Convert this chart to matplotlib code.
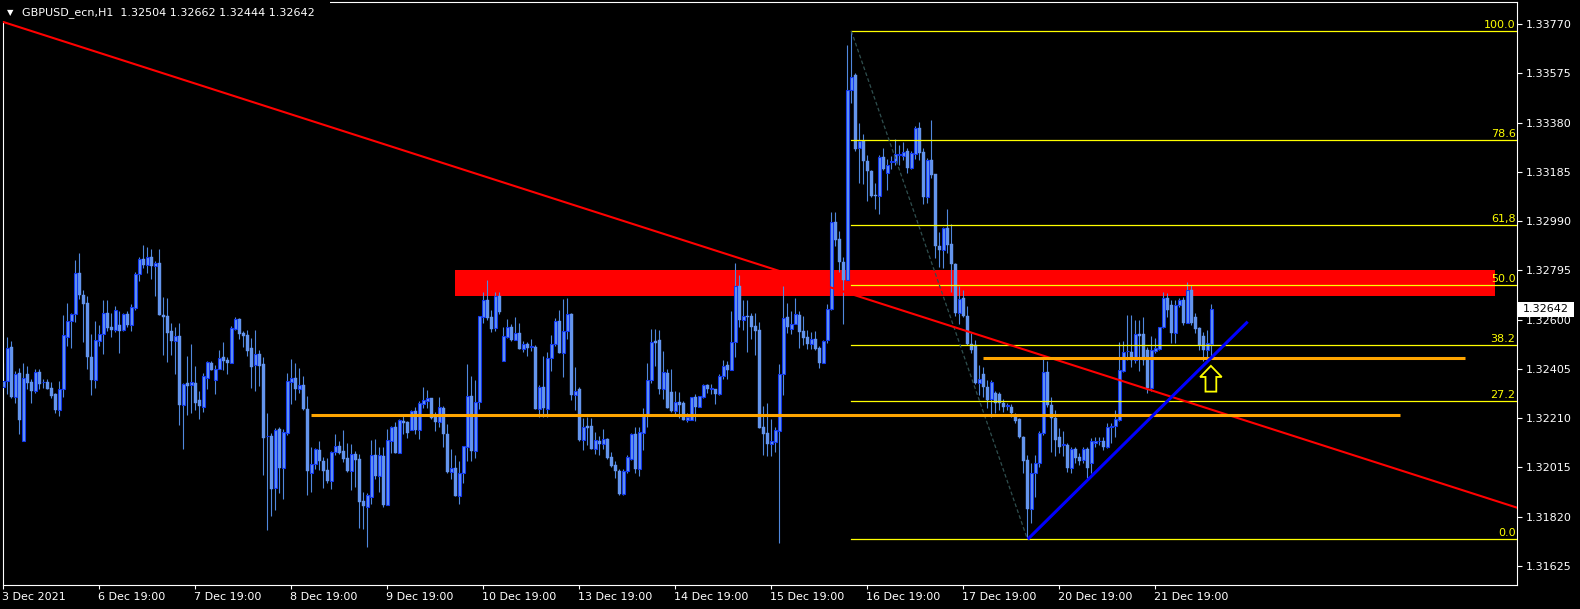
import matplotlib
matplotlib.use("Agg")
import matplotlib.pyplot as plt
import numpy as np
from matplotlib.patches import Rectangle, Polygon
from matplotlib.transforms import ScaledTranslation

title = "GBPUSD_ecn,H1  1.32504 1.32662 1.32444 1.32642"

# H1 candles
opens = [
    1.32332, 1.32358, 1.32490, 1.32295, 1.32387, 1.32121, 1.32385, 1.32353, 1.32319, 1.32392,
    1.32352, 1.32353, 1.32329, 1.32306, 1.32242, 1.32324, 1.32533, 1.32596, 1.32621, 1.32783,
    1.32698, 1.32666, 1.32453, 1.32361, 1.32517, 1.32542, 1.32625, 1.32571, 1.32559, 1.32579,
    1.32560, 1.32622, 1.32580, 1.32648, 1.32779, 1.32840, 1.32818, 1.32848, 1.32811, 1.32824,
    1.32618, 1.32614, 1.32555, 1.32517, 1.32535, 1.32262, 1.32348, 1.32341, 1.32348, 1.32282,
    1.32255, 1.32370, 1.32428, 1.32362, 1.32406, 1.32452, 1.32440, 1.32430, 1.32563, 1.32603,
    1.32547, 1.32539, 1.32488, 1.32419, 1.32464, 1.32424, 1.32139, 1.32141, 1.31935, 1.32166,
    1.32014, 1.32152, 1.32354, 1.32369, 1.32327, 1.32341, 1.32246, 1.31994, 1.32027, 1.32084,
    1.32040, 1.32005, 1.31959, 1.32075, 1.32099, 1.32080, 1.32051, 1.32002, 1.32068, 1.32048,
    1.31883, 1.31857, 1.31899, 1.32064, 1.31982, 1.32060, 1.31864, 1.32121, 1.32175, 1.32073,
    1.32199, 1.32196, 1.32163, 1.32238, 1.32162, 1.32267, 1.32279, 1.32290, 1.32216, 1.32195,
    1.32250, 1.32149, 1.31998, 1.32013, 1.31903, 1.31992, 1.32097, 1.32298, 1.32080, 1.32272,
    1.32612, 1.32678, 1.32611, 1.32568, 1.32694, 1.32438, 1.32533, 1.32570, 1.32520, 1.32547,
    1.32485, 1.32504, 1.32492, 1.32492, 1.32248, 1.32335, 1.32245, 1.32447, 1.32502, 1.32595,
    1.32469, 1.32555, 1.32621, 1.32303, 1.32326, 1.32124, 1.32179, 1.32179, 1.32088, 1.32120,
    1.32109, 1.32128, 1.32057, 1.32025, 1.32001, 1.31910, 1.31999, 1.32049, 1.32148, 1.32010,
    1.32153, 1.32223, 1.32359, 1.32516, 1.32520, 1.32326, 1.32389, 1.32314, 1.32239, 1.32273,
    1.32270, 1.32201, 1.32203, 1.32293, 1.32256, 1.32293, 1.32342, 1.32326, 1.32326, 1.32304,
    1.32375, 1.32421, 1.32402, 1.32511, 1.32733, 1.32597, 1.32614, 1.32615, 1.32575, 1.32560,
    1.32173, 1.32152, 1.32108, 1.32116, 1.32157, 1.32383, 1.32611, 1.32562, 1.32583, 1.32619,
    1.32556, 1.32533, 1.32505, 1.32524, 1.32488, 1.32430, 1.32518, 1.32642, 1.32986, 1.32919,
    1.32830, 1.32759, 1.33509, 1.33569, 1.33278, 1.33309, 1.33227, 1.33189, 1.33094, 1.33091,
    1.33245, 1.33182, 1.33225, 1.33225, 1.33254, 1.33247, 1.33268, 1.33202, 1.33258, 1.33359,
    1.33265, 1.33084, 1.33231, 1.33175, 1.32893, 1.32874, 1.32964, 1.32901, 1.32820, 1.32628,
    1.32685, 1.32616, 1.32502, 1.32500, 1.32348, 1.32385, 1.32335, 1.32286, 1.32308, 1.32306,
    1.32269, 1.32258, 1.32256, 1.32216, 1.32207, 1.32137, 1.32044, 1.31849, 1.31992, 1.32031,
    1.32150, 1.32392, 1.32262, 1.32209, 1.32137, 1.32104, 1.32104, 1.32014, 1.32088, 1.32055,
    1.32044, 1.32088, 1.32031, 1.32113, 1.32118, 1.32121, 1.32095, 1.32174, 1.32180, 1.32203,
    1.32398, 1.32475, 1.32473, 1.32440, 1.32543, 1.32543, 1.32480, 1.32328, 1.32476, 1.32484,
    1.32570, 1.32685, 1.32658, 1.32549, 1.32658, 1.32678, 1.32588, 1.32718, 1.32612, 1.32566,
    1.32535, 1.32480, 1.32504,
]
highs = [
    1.32430, 1.32530, 1.32515, 1.32398, 1.32410, 1.32430, 1.32416, 1.32364, 1.32403, 1.32403,
    1.32366, 1.32365, 1.32352, 1.32308, 1.32357, 1.32618, 1.32666, 1.32628, 1.32836, 1.32864,
    1.32717, 1.32695, 1.32543, 1.32595, 1.32579, 1.32676, 1.32676, 1.32625, 1.32654, 1.32633,
    1.32626, 1.32634, 1.32662, 1.32787, 1.32847, 1.32896, 1.32889, 1.32880, 1.32832, 1.32880,
    1.32690, 1.32686, 1.32588, 1.32572, 1.32587, 1.32348, 1.32456, 1.32505, 1.32416, 1.32317,
    1.32390, 1.32438, 1.32435, 1.32420, 1.32480, 1.32511, 1.32453, 1.32575, 1.32609, 1.32607,
    1.32556, 1.32559, 1.32526, 1.32559, 1.32480, 1.32453, 1.32230, 1.32152, 1.32172, 1.32176,
    1.32166, 1.32387, 1.32444, 1.32428, 1.32410, 1.32377, 1.32298, 1.32096, 1.32092, 1.32120,
    1.32056, 1.32051, 1.32081, 1.32147, 1.32120, 1.32162, 1.32112, 1.32108, 1.32080, 1.32067,
    1.31918, 1.31914, 1.32124, 1.32128, 1.32097, 1.32096, 1.32168, 1.32179, 1.32195, 1.32205,
    1.32217, 1.32199, 1.32244, 1.32254, 1.32277, 1.32333, 1.32320, 1.32290, 1.32234, 1.32294,
    1.32258, 1.32188, 1.32088, 1.32062, 1.32042, 1.32099, 1.32425, 1.32377, 1.32361, 1.32615,
    1.32708, 1.32757, 1.32638, 1.32710, 1.32710, 1.32571, 1.32603, 1.32582, 1.32611, 1.32587,
    1.32517, 1.32512, 1.32525, 1.32498, 1.32341, 1.32456, 1.32472, 1.32541, 1.32607, 1.32638,
    1.32681, 1.32686, 1.32626, 1.32413, 1.32335, 1.32212, 1.32215, 1.32212, 1.32156, 1.32140,
    1.32168, 1.32131, 1.32074, 1.32041, 1.32008, 1.32008, 1.32065, 1.32153, 1.32173, 1.32173,
    1.32252, 1.32428, 1.32564, 1.32562, 1.32560, 1.32476, 1.32403, 1.32405, 1.32318, 1.32314,
    1.32277, 1.32231, 1.32294, 1.32307, 1.32298, 1.32344, 1.32346, 1.32346, 1.32326, 1.32383,
    1.32441, 1.32436, 1.32636, 1.32825, 1.32777, 1.32677, 1.32678, 1.32628, 1.32627, 1.32591,
    1.32259, 1.32271, 1.32207, 1.32175, 1.32425, 1.32734, 1.32667, 1.32636, 1.32686, 1.32635,
    1.32614, 1.32560, 1.32552, 1.32557, 1.32495, 1.32520, 1.32662, 1.33027, 1.33027, 1.32950,
    1.32850, 1.33689, 1.33743, 1.33577, 1.33379, 1.33336, 1.33254, 1.33194, 1.33142, 1.33254,
    1.33281, 1.33238, 1.33247, 1.33314, 1.33292, 1.33302, 1.33278, 1.33269, 1.33368, 1.33383,
    1.33281, 1.33242, 1.33392, 1.33175, 1.32948, 1.32968, 1.33040, 1.32977, 1.32826, 1.32733,
    1.32718, 1.32654, 1.32546, 1.32520, 1.32421, 1.32414, 1.32361, 1.32361, 1.32318, 1.32315,
    1.32286, 1.32269, 1.32265, 1.32229, 1.32209, 1.32139, 1.32064, 1.32031, 1.32064, 1.32157,
    1.32444, 1.32436, 1.32295, 1.32242, 1.32170, 1.32157, 1.32110, 1.32097, 1.32097, 1.32071,
    1.32097, 1.32097, 1.32130, 1.32137, 1.32137, 1.32137, 1.32190, 1.32190, 1.32242, 1.32513,
    1.32517, 1.32619, 1.32619, 1.32599, 1.32599, 1.32612, 1.32493, 1.32536, 1.32526, 1.32572,
    1.32708, 1.32707, 1.32678, 1.32678, 1.32685, 1.32691, 1.32748, 1.32737, 1.32625, 1.32572,
    1.32553, 1.32559, 1.32662,
]
lows = [
    1.32216, 1.32306, 1.32291, 1.32271, 1.32147, 1.32121, 1.32327, 1.32271, 1.32308, 1.32324,
    1.32331, 1.32327, 1.32291, 1.32232, 1.32220, 1.32295, 1.32496, 1.32489, 1.32592, 1.32682,
    1.32511, 1.32406, 1.32303, 1.32329, 1.32496, 1.32465, 1.32555, 1.32533, 1.32551, 1.32469,
    1.32556, 1.32572, 1.32556, 1.32638, 1.32754, 1.32803, 1.32786, 1.32761, 1.32695, 1.32618,
    1.32460, 1.32434, 1.32461, 1.32385, 1.32183, 1.32088, 1.32222, 1.32229, 1.32242, 1.32208,
    1.32236, 1.32325, 1.32401, 1.32306, 1.32403, 1.32401, 1.32385, 1.32430, 1.32559, 1.32523,
    1.32492, 1.32457, 1.32331, 1.32317, 1.32339, 1.31986, 1.31767, 1.31824, 1.31848, 1.31912,
    1.31891, 1.32145, 1.32267, 1.32282, 1.32308, 1.32242, 1.31906, 1.31919, 1.32007, 1.32003,
    1.31935, 1.31952, 1.31931, 1.32062, 1.32067, 1.32036, 1.31998, 1.31927, 1.31939, 1.31776,
    1.31772, 1.31701, 1.31868, 1.31969, 1.31918, 1.31857, 1.31864, 1.32072, 1.32073, 1.32073,
    1.32149, 1.32130, 1.32163, 1.32149, 1.32129, 1.32250, 1.32250, 1.32208, 1.32159, 1.32176,
    1.32097, 1.31994, 1.31967, 1.31903, 1.31870, 1.31953, 1.32040, 1.32040, 1.32052, 1.32246,
    1.32587, 1.32600, 1.32551, 1.32556, 1.32623, 1.32438, 1.32528, 1.32517, 1.32520, 1.32485,
    1.32472, 1.32456, 1.32476, 1.32245, 1.32213, 1.32216, 1.32213, 1.32398, 1.32497, 1.32469,
    1.32374, 1.32525, 1.32281, 1.32242, 1.32121, 1.32084, 1.32104, 1.32088, 1.32069, 1.32065,
    1.32088, 1.32049, 1.32018, 1.31972, 1.31906, 1.31904, 1.31992, 1.32045, 1.31992, 1.31979,
    1.32084, 1.32173, 1.32348, 1.32417, 1.32304, 1.32286, 1.32249, 1.32235, 1.32222, 1.32212,
    1.32203, 1.32193, 1.32203, 1.32197, 1.32256, 1.32289, 1.32311, 1.32304, 1.32264, 1.32302,
    1.32364, 1.32364, 1.32402, 1.32454, 1.32570, 1.32560, 1.32470, 1.32523, 1.32459, 1.32169,
    1.32062, 1.32058, 1.32058, 1.32075, 1.31717, 1.32303, 1.32549, 1.32542, 1.32581, 1.32486,
    1.32499, 1.32482, 1.32483, 1.32480, 1.32409, 1.32430, 1.32509, 1.32640, 1.32890, 1.32790,
    1.32582, 1.32759, 1.33459, 1.33269, 1.33143, 1.33138, 1.33068, 1.33087, 1.33040, 1.33020,
    1.33194, 1.33115, 1.33198, 1.33211, 1.33211, 1.33234, 1.33182, 1.33198, 1.33238, 1.33234,
    1.33060, 1.33064, 1.33162, 1.32843, 1.32810, 1.32803, 1.32863, 1.32709, 1.32616, 1.32583,
    1.32612, 1.32500, 1.32467, 1.32345, 1.32302, 1.32295, 1.32249, 1.32216, 1.32229, 1.32242,
    1.32236, 1.32242, 1.32216, 1.32190, 1.32130, 1.31994, 1.31732, 1.31794, 1.31899, 1.32018,
    1.32143, 1.32256, 1.32077, 1.32058, 1.32071, 1.32058, 1.31998, 1.31994, 1.32034, 1.32025,
    1.32031, 1.31972, 1.31992, 1.32097, 1.32104, 1.32084, 1.32091, 1.32110, 1.32137, 1.32200,
    1.32394, 1.32440, 1.32414, 1.32427, 1.32398, 1.32421, 1.32308, 1.32319, 1.32469, 1.32480,
    1.32566, 1.32612, 1.32506, 1.32506, 1.32649, 1.32579, 1.32586, 1.32579, 1.32546, 1.32480,
    1.32438, 1.32447, 1.32444,
]
closes = [
    1.32358, 1.32486, 1.32295, 1.32385, 1.32203, 1.32368, 1.32350, 1.32319, 1.32391, 1.32345,
    1.32352, 1.32327, 1.32298, 1.32242, 1.32324, 1.32538, 1.32596, 1.32622, 1.32783, 1.32699,
    1.32662, 1.32453, 1.32361, 1.32519, 1.32542, 1.32625, 1.32567, 1.32560, 1.32637, 1.32556,
    1.32621, 1.32579, 1.32649, 1.32782, 1.32840, 1.32816, 1.32847, 1.32814, 1.32823, 1.32618,
    1.32612, 1.32547, 1.32517, 1.32535, 1.32262, 1.32345, 1.32337, 1.32353, 1.32270, 1.32258,
    1.32377, 1.32432, 1.32401, 1.32403, 1.32448, 1.32436, 1.32430, 1.32567, 1.32603, 1.32543,
    1.32537, 1.32477, 1.32414, 1.32463, 1.32418, 1.32133, 1.32139, 1.31931, 1.32164, 1.32011,
    1.32155, 1.32356, 1.32368, 1.32327, 1.32341, 1.32245, 1.32002, 1.32027, 1.32087, 1.32042,
    1.32002, 1.31959, 1.32076, 1.32099, 1.32071, 1.32048, 1.32001, 1.32068, 1.32044, 1.31879,
    1.31860, 1.31904, 1.32064, 1.31982, 1.32064, 1.31864, 1.32124, 1.32175, 1.32073, 1.32203,
    1.32192, 1.32153, 1.32238, 1.32162, 1.32270, 1.32281, 1.32289, 1.32212, 1.32195, 1.32253,
    1.32146, 1.31998, 1.32013, 1.31903, 1.31993, 1.32099, 1.32298, 1.32080, 1.32273, 1.32615,
    1.32678, 1.32607, 1.32563, 1.32694, 1.32630, 1.32535, 1.32570, 1.32520, 1.32547, 1.32485,
    1.32504, 1.32489, 1.32492, 1.32245, 1.32335, 1.32250, 1.32448, 1.32502, 1.32595, 1.32469,
    1.32555, 1.32621, 1.32303, 1.32316, 1.32124, 1.32174, 1.32170, 1.32088, 1.32124, 1.32109,
    1.32127, 1.32053, 1.32021, 1.31999, 1.31910, 1.32001, 1.32055, 1.32148, 1.32010, 1.32154,
    1.32220, 1.32362, 1.32511, 1.32509, 1.32326, 1.32392, 1.32249, 1.32239, 1.32273, 1.32263,
    1.32203, 1.32214, 1.32293, 1.32256, 1.32296, 1.32342, 1.32326, 1.32326, 1.32304, 1.32377,
    1.32418, 1.32402, 1.32511, 1.32733, 1.32597, 1.32615, 1.32611, 1.32570, 1.32557, 1.32169,
    1.32148, 1.32108, 1.32120, 1.32164, 1.32385, 1.32606, 1.32570, 1.32583, 1.32623, 1.32553,
    1.32529, 1.32505, 1.32524, 1.32484, 1.32430, 1.32515, 1.32642, 1.32986, 1.32917, 1.32830,
    1.32759, 1.33509, 1.33563, 1.33274, 1.33309, 1.33227, 1.33189, 1.33091, 1.33091, 1.33245,
    1.33198, 1.33211, 1.33225, 1.33255, 1.33254, 1.33265, 1.33202, 1.33261, 1.33359, 1.33261,
    1.33087, 1.33231, 1.33171, 1.32890, 1.32874, 1.32964, 1.32897, 1.32820, 1.32628, 1.32682,
    1.32616, 1.32502, 1.32480, 1.32348, 1.32364, 1.32332, 1.32282, 1.32352, 1.32269, 1.32271,
    1.32253, 1.32258, 1.32229, 1.32200, 1.32134, 1.32042, 1.31849, 1.31992, 1.32031, 1.32150,
    1.32392, 1.32260, 1.32209, 1.32124, 1.32097, 1.32104, 1.32014, 1.32088, 1.32051, 1.32042,
    1.32088, 1.32014, 1.32121, 1.32121, 1.32118, 1.32095, 1.32174, 1.32180, 1.32207, 1.32401,
    1.32473, 1.32475, 1.32440, 1.32543, 1.32535, 1.32440, 1.32328, 1.32480, 1.32487, 1.32570,
    1.32685, 1.32638, 1.32549, 1.32658, 1.32678, 1.32588, 1.32718, 1.32588, 1.32562, 1.32500,
    1.32480, 1.32506, 1.32642,
]

xtick_bars = [0, 24, 48, 72, 96, 120, 144, 168, 192, 216, 240, 264, 288]
xtick_labels = ["3 Dec 2021", "6 Dec 19:00", "7 Dec 19:00", "8 Dec 19:00", "9 Dec 19:00",
                "10 Dec 19:00", "13 Dec 19:00", "14 Dec 19:00", "15 Dec 19:00",
                "16 Dec 19:00", "17 Dec 19:00", "20 Dec 19:00", "21 Dec 19:00"]
ytick_values = [1.31625, 1.31820, 1.32015, 1.32210, 1.32405, 1.32600,
                1.32795, 1.32990, 1.33185, 1.33380, 1.33575, 1.33770]

# fibo retracement from the 16 Dec high to the 17 Dec low
fib_high_bar, fib_high = 212, 1.33743
fib_low_bar, fib_low = 256, 1.31732
fib_levels = [0.0, 27.2, 38.2, 50.0, 61.8, 78.6, 100.0]
fib_labels = ["0.0", "27.2", "38.2", "50.0", "61,8", "78.6", "100.0"]

# red resistance zone
zone_bars = [112.9, 372.9]
zone_prices = [1.32695, 1.32797]

# trend lines (bar, price) pairs
red_trend = [(0, 1.33779), (300, 1.32254)]
blue_trend = [(256.1, 1.31730), (311.1, 1.32592)]
# orange support levels: start bar, end bar, price
orange_levels = [(76.9, 349.2, 1.32221), (244.8, 365.3, 1.32447)]
# yellow arrow
arrow_bar, arrow_top, arrow_bottom = 301.9, 1.32417, 1.32315

W, H = 1580, 609
fig = plt.figure(figsize=(W / 100, H / 100), dpi=100, facecolor="black")
ax = fig.add_axes([2.7 / W, 1 - 585 / H, 1514 / W, 582.7 / H])
ax.set_facecolor("black")
ax.set_xlim(-0.15, 378.35)
ax.set_ylim(1.31549, 1.33857)

o = np.array(opens)
h = np.array(highs)
l = np.array(lows)
c = np.array(closes)
x = np.arange(len(o))
up = c >= o
bottom = np.minimum(o, c)
height = np.maximum(np.abs(c - o), 0.00002)

body_col = "#6495ED"
ax.add_patch(Rectangle((zone_bars[0], zone_prices[0]), zone_bars[1] - zone_bars[0],
                       zone_prices[1] - zone_prices[0], fc="#FF0000", ec="none", zorder=1))
ax.vlines(x, l, h, color="#5088DD", lw=0.8, zorder=2)
ax.bar(x[~up], height[~up], bottom=bottom[~up], width=0.72, color=body_col,
       edgecolor=body_col, linewidth=0.3, zorder=3)
ax.bar(x[up], height[up], bottom=bottom[up], width=0.72, color=body_col,
       edgecolor="#1238F0", linewidth=0.8, zorder=3)

# fibo
xmax = ax.get_xlim()[1]
for lvl, lab in zip(fib_levels, fib_labels):
    p = fib_low + (fib_high - fib_low) * lvl / 100
    ax.plot([fib_high_bar, xmax], [p, p], color="#FFFF00", lw=0.9, zorder=4)
    ax.text(xmax - 0.3, p + 0.00003, lab, color="#FFFF00", fontsize=8,
            ha="right", va="bottom", zorder=6)
ax.plot([fib_high_bar, fib_low_bar], [fib_high, fib_low], color="#2F4F4F",
        lw=0.9, ls=(0, (3, 2)), zorder=4)

ax.axline(red_trend[0], red_trend[1], color="#FF0000", lw=1.5, zorder=5)
for b0, b1, p in orange_levels:
    ax.plot([b0, b1], [p, p], color="#FFA500", lw=2.2, zorder=5, solid_capstyle="butt")
ax.plot([blue_trend[0][0], blue_trend[1][0]], [blue_trend[0][1], blue_trend[1][1]],
        color="#0000FF", lw=2.2, zorder=5, solid_capstyle="butt")

hw, sw, hh = 2.7, 1.35, 0.00044
arrow = Polygon([(arrow_bar, arrow_top), (arrow_bar + hw, arrow_top - hh),
                 (arrow_bar + sw, arrow_top - hh), (arrow_bar + sw, arrow_bottom),
                 (arrow_bar - sw, arrow_bottom), (arrow_bar - sw, arrow_top - hh),
                 (arrow_bar - hw, arrow_top - hh)], closed=True,
                fc="none", ec="#FFFF00", lw=1.3, zorder=6)
ax.add_patch(arrow)

for s in ax.spines.values():
    s.set_color("white")
    s.set_linewidth(0.8)

ax.yaxis.tick_right()
ax.set_yticks(ytick_values)
ax.set_yticklabels([f"{v:.5f}" for v in ytick_values])
ax.tick_params(axis="y", colors="white", length=3.5, width=0.8, pad=3, labelsize=8)
ax.set_xticks(xtick_bars)
ax.set_xticklabels(xtick_labels, ha="left")
ax.tick_params(axis="x", colors="white", length=3, width=0.8, pad=2, labelsize=8)
shift = ScaledTranslation(-1.5 / 100, 0, fig.dpi_scale_trans)
for lab in ax.get_xticklabels():
    lab.set_transform(lab.get_transform() + shift)

# title block
fig.add_artist(Rectangle((0, 1 - 21 / H), 330 / W, 21 / H, transform=fig.transFigure,
                         fc="black", ec="none", zorder=2))
fig.text(7 / W, 1 - 12.5 / H, "\u25BC", color="white", fontsize=6, va="center", zorder=3)
fig.text(22 / W, 1 - 13 / H, title, color="white", fontsize=8, va="center", zorder=3)

# current price tag
y_px = ax.transData.transform((0, closes[-1]))[1]
fig.add_artist(Rectangle((1517.7 / W, (y_px - 7.5) / H), 56.3 / W, 15 / H,
                         transform=fig.transFigure, fc="white", ec="none", zorder=4))
fig.text(1523 / W, y_px / H, f"{closes[-1]:.5f}", color="black", fontsize=8,
         va="center", zorder=5)

fig.savefig("out.png", dpi=100, facecolor="black")
